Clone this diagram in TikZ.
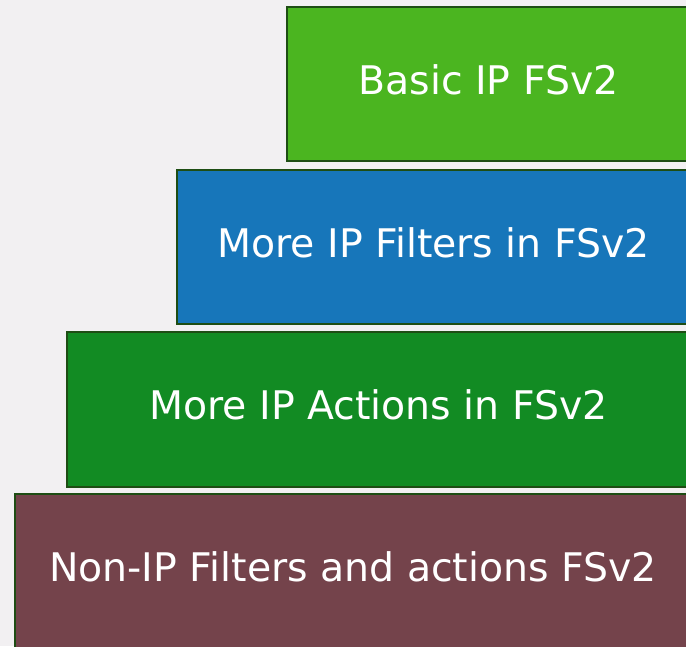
\documentclass[tikz,border=0pt]{standalone}
\usepackage{fontspec}
\setmainfont{DejaVu Sans}
\definecolor{bg}{HTML}{F2F0F2}
\definecolor{edge}{HTML}{1E4D14}
\definecolor{cA}{HTML}{4BB520}
\definecolor{cB}{HTML}{1776BA}
\definecolor{cC}{HTML}{128B23}
\definecolor{cD}{HTML}{74434B}
\begin{document}
\begin{tikzpicture}[x=1pt,y=-1pt,
  layer/.style={draw=edge,line width=1.8pt},
  lbl/.style={text=white,inner sep=0pt,font=\fontsize{39.4}{44}\selectfont}]
\fill[bg] (0,0) rectangle (686,646);
\useasboundingbox (0,0) rectangle (686,646);
\draw[layer,fill=cA] (287,7) rectangle (690,161);
\node[lbl] (a) at (488.5,80) {Basic IP FSv2};
\draw[layer,fill=cB] (177,170) rectangle (690,324);
\node[lbl] (b) at (433.5,243) {More IP Filters in FSv2};
\draw[layer,fill=cC] (67,332) rectangle (690,487);
\node[lbl] (c) at (378.5,405) {More IP Actions in FSv2};
\draw[layer,fill=cD] (15,494) rectangle (690,650);
\node[lbl] (d) at (353,567) {Non-IP Filters and actions FSv2};
\end{tikzpicture}
\end{document}
